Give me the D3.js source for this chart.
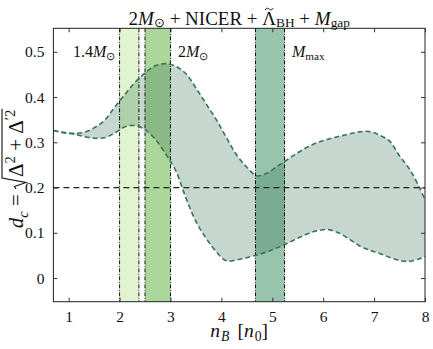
<!DOCTYPE html>
<html><head><meta charset="utf-8">
<script src="https://cdn.jsdelivr.net/npm/d3@7"></script>
<style>body{margin:0;background:#fff}svg{display:block}</style>
</head><body>
<svg id="chart" width="433" height="349"></svg>
<script>
// ---- data ----
const nB = [0.7,0.9,1.1,1.3,1.5,1.7,1.9,2.1,2.3,2.5,2.7,2.9,3.1,3.3,3.5,3.7,3.9,4.1,4.3,4.5,4.7,4.9,5.1,5.3,5.5,5.7,5.9,6.1,6.3,6.5,6.7,6.9,7.1,7.3,7.5,7.7,7.9,8.0];
const upper = [0.326,0.322,0.320,0.322,0.332,0.348,0.377,0.405,0.432,0.453,0.469,0.474,0.468,0.452,0.420,0.385,0.350,0.310,0.272,0.245,0.226,0.232,0.247,0.262,0.277,0.290,0.300,0.307,0.313,0.318,0.323,0.324,0.316,0.303,0.270,0.240,0.198,0.173];
const lower = [0.326,0.321,0.318,0.313,0.309,0.310,0.320,0.334,0.337,0.328,0.307,0.275,0.238,0.178,0.125,0.088,0.058,0.038,0.040,0.045,0.051,0.058,0.067,0.077,0.088,0.098,0.105,0.107,0.100,0.087,0.072,0.062,0.055,0.046,0.039,0.037,0.043,0.048];
const bandNames = ["1.4M", "2M", "Mmax"];
const bandStart = [2.0, 2.5, 4.67];
const bandEnd = [2.38, 3.0, 5.24];
const refLine = 0.2;
const xTicks = [1,2,3,4,5,6,7,8];
const yTicks = [0,0.1,0.2,0.3,0.4,0.5];
const yTickLabels = ["0","0.1","0.2","0.3","0.4","0.5"];

// ---- layout ----
const L = 53.4, R = 425, T = 28.3, B = 301.7;
const x = d3.scaleLinear([0.7, 8], [L, R]);
const y = d3.scaleLinear([-0.0523, 0.552], [B, T]);
const svg = d3.select("#chart");
const serif = "Liberation Serif, Times New Roman, serif";
const bandColors = ["#e0f5cf", "#acd79a", "#98c4ad"];

// bands
const bands = bandStart.map((s,i)=>({s, e: bandEnd[i], c: bandColors[i], name: bandNames[i]}));
svg.append("g").selectAll("rect").data(bands).join("rect")
  .attr("x", d=>x(d.s)).attr("width", d=>x(d.e)-x(d.s))
  .attr("y", T).attr("height", B-T).attr("fill", d=>d.c);

// area
const pts = nB.map((v,i)=>({x:v, u:upper[i], l:lower[i]}));
const area = d3.area().x(d=>x(d.x)).y0(d=>y(d.l)).y1(d=>y(d.u)).curve(d3.curveCatmullRom);
svg.append("path").datum(pts).attr("d", area)
  .attr("fill", "#2f6e50").attr("fill-opacity", 0.28);

// band edges
const edges = [];
bands.forEach(b=>{edges.push(b.s); edges.push(b.e);});
svg.append("g").selectAll("line").data(edges).join("line")
  .attr("x1", d=>x(d)).attr("x2", d=>x(d)).attr("y1", T).attr("y2", B)
  .attr("stroke", "#111").attr("stroke-width", 1).attr("stroke-dasharray", "4,1.5,1,1.5");

// boundary lines
const lineU = d3.line().x(d=>x(d.x)).y(d=>y(d.u)).curve(d3.curveCatmullRom);
const lineL = d3.line().x(d=>x(d.x)).y(d=>y(d.l)).curve(d3.curveCatmullRom);
[lineU, lineL].forEach(f=>{
  svg.append("path").datum(pts).attr("d", f).attr("fill","none")
    .attr("stroke", "#3b735a").attr("stroke-width", 1.6).attr("stroke-dasharray", "5,3");
});

// reference line
svg.append("line").attr("x1", L).attr("x2", R).attr("y1", y(refLine)).attr("y2", y(refLine))
  .attr("stroke", "#222").attr("stroke-width", 1.2).attr("stroke-dasharray", "6,4");

// axes
const tickStyle = g => { g.select(".domain").remove(); g.selectAll("line").attr("stroke","#333"); g.selectAll("text").attr("font-family", serif).attr("font-size", 15.5).attr("fill","#111"); };
svg.append("g").attr("transform", `translate(0,${B})`)
  .call(d3.axisBottom(x).tickValues(xTicks).tickSize(-4).tickPadding(9).tickFormat(d3.format("d"))).call(tickStyle);
svg.append("g").attr("transform", `translate(0,${T})`)
  .call(d3.axisTop(x).tickValues(xTicks).tickSize(-4).tickFormat("")).call(tickStyle);
svg.append("g").attr("transform", `translate(${L},0)`)
  .call(d3.axisLeft(y).tickValues(yTicks).tickSize(-4).tickPadding(9).tickFormat((d,i)=>yTickLabels[i])).call(tickStyle);
svg.append("g").attr("transform", `translate(${R},0)`)
  .call(d3.axisRight(y).tickValues(yTicks).tickSize(-4).tickFormat("")).call(tickStyle);
svg.append("rect").attr("x", L).attr("y", T).attr("width", R-L).attr("height", B-T)
  .attr("fill","none").attr("stroke","#222").attr("stroke-width",1);

// rich text helper
function rich(parent, pieces, size, subShift) {
  const g = parent.append("g");
  let cx = 0;
  pieces.forEach(p=>{
    const fs = p.sub || p.sup ? size*0.7 : size;
    const t = g.append("text").attr("x", cx + (p.pre||0))
      .attr("y", p.sub ? size*(subShift||0.25) : (p.sup ? -size*0.4 : 0))
      .attr("font-family", serif).attr("font-size", fs)
      .attr("font-style", p.it ? "italic" : "normal").attr("fill","#111")
      .style("white-space","pre").text(p.t);
    p.x0 = cx + (p.pre||0);
    cx += (p.pre||0) + (p.t ? t.node().getComputedTextLength() : 0) + (p.sp||0);
    p.x1 = cx;
  });
  return {g, w: cx};
}

// title
{
  const pieces = [{t:"2"},{t:"M",it:true},{t:"⊙",sub:true},{t:" + NICER + "},{t:"Λ"},{t:"BH",sub:true},{t:" + "},{t:"M",it:true},{t:"gap",sub:true}];
  const r = rich(svg, pieces, 19, 0.15);
  r.g.attr("transform", `translate(${(L+R)/2 - r.w/2},24.5)`);
  const cx = (pieces[4].x0 + pieces[4].x1)/2, ty = -15.5;
  r.g.append("path")
    .attr("d", `M${cx-4},${ty+1} C${cx-2.5},${ty-2} ${cx-1},${ty-0.5} ${cx},${ty} S${cx+2.5},${ty+2} ${cx+4},${ty-1}`)
    .attr("fill","none").attr("stroke","#111").attr("stroke-width",1);
}

// band labels
const labelPos = [[73,57],[178,57],[292,57]];
const labelPieces = [
  [{t:"1.4"},{t:"M",it:true},{t:"⊙",sub:true}],
  [{t:"2"},{t:"M",it:true},{t:"⊙",sub:true}],
  [{t:"M",it:true},{t:"max",sub:true}]
];
labelPieces.forEach((p,i)=>{
  const r = rich(svg, p, 16, 0.2);
  r.g.attr("transform", `translate(${labelPos[i][0]},${labelPos[i][1]})`);
});

// x label
{
  const r = rich(svg, [{t:"n",it:true},{t:"B",it:true,sub:true,pre:1,sp:8},{t:"["},{t:"n",it:true},{t:"0",sub:true,pre:1},{t:"]"}], 19.5, 0.22);
  r.g.attr("transform", `translate(${(L+R)/2 - r.w/2},337)`);
}

// y label
{
  const pieces = [{t:"d",it:true},{t:"c",it:true,sub:true},{t:" = "},{t:"", sp:12},{t:"Δ"},{t:"2",sup:true},{t:" + "},{t:"Δ"},{t:"′2",sup:true}];
  const r = rich(svg, pieces, 21, 0.25);
  const x0 = pieces[3].x0, end = pieces[8].x1 + 1, top = -21;
  r.g.append("path")
    .attr("d", `M${x0},${-7} L${x0+2.5},${-8.5} L${x0+6.5},${3} L${x0+11},${top} L${end},${top}`)
    .attr("fill","none").attr("stroke","#111").attr("stroke-width",1.1).attr("stroke-linejoin","miter");
  r.g.attr("transform", `translate(23,${169 + r.w/2}) rotate(-90)`);
}
</script>
</body></html>
